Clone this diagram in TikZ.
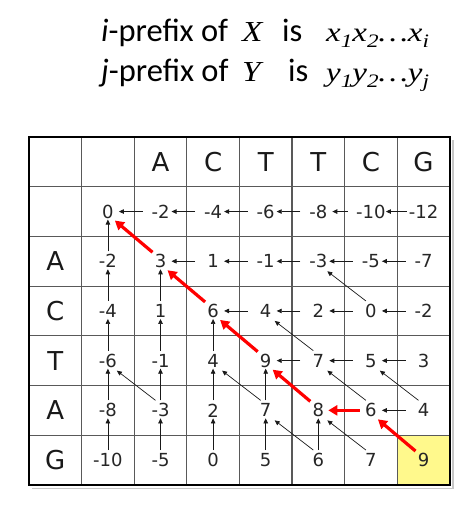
\documentclass[tikz,border=0pt]{standalone}
\usepackage{fontspec}
\usepackage{graphicx}
\setmainfont{DejaVu Sans}
\newfontfamily\ttlfont{Carlito}
\newfontfamily\serifit{Liberation Serif}
\usetikzlibrary{arrows.meta}
\newcommand\sbs[1]{\raisebox{-6pt}{\fontsize{19}{19}\selectfont #1}}
\newcommand\V[3]{\node[num] (n-#1-#2) at ({29+52.6*(#2+0.5)},{137+49.7*(#1+1.5)}) {#3};}
\newcommand\HA[3]{\draw[blk] ([xshift=-18pt]n-#1-#2.center) -- ([xshift=11pt]n-#1-#3.center);}
\newcommand\VA[3]{\draw[blk] ([yshift=10pt]n-#2-#1.center) -- ([yshift=-8pt]n-#3-#1.center);}
\newcommand\DA[4]{\draw[blk] ([shift={(-5pt,10pt)}]n-#1-#2.center) -- ([shift={(9pt,-10pt)}]n-#3-#4.center);}
\newcommand\RD[4]{\draw[redarr] ([shift={(-8pt,9pt)}]n-#1-#2.center) -- ([shift={(7pt,-9pt)}]n-#3-#4.center);}
\begin{document}
\begin{tikzpicture}[x=1pt,y=-1pt,
  num/.style={font=\fontsize{18}{18}\selectfont, inner sep=0pt, text=black!85},
  hdr/.style={font=\fontsize{26}{26}\selectfont, inner sep=0pt, text=black!90},
  blk/.style={draw=black!90, line width=0.7pt, -{Triangle[length=5pt,width=4.5pt]}},
  redarr/.style={draw=red, line width=3.2pt, -{Triangle[length=9pt,width=10pt]}},
  ttl/.style={font=\ttlfont\fontsize{32.5}{32.5}\selectfont, anchor=base west, inner sep=0pt},
  mth/.style={font=\serifit\itshape\fontsize{27}{27}\selectfont, anchor=base west, inner sep=0pt},
  big/.style={font=\serifit\itshape\fontsize{29}{29}\selectfont, anchor=base west, inner sep=0pt},
  gridline/.style={draw=black!65, line width=1.1pt},
  border/.style={draw=black, line width=2.4pt}]
\useasboundingbox (0,0) rectangle (470,505);
% title
\node[ttl] (t1) at (101,42) {\textit{i}-prefix of};
\node[big] (x1) at (242,42) {\scalebox{1.15}[1]{X}};
\node[ttl] (i1) at (282,42) {is};
\node[mth] (m1) at (326,42) {\scalebox{1.22}[1]{x\sbs{1}x\sbs{2}…x\sbs{i}}};
\node[ttl] (t2) at (101,82) {\textit{j}-prefix of};
\node[big] (y2) at (242,82) {\scalebox{1.15}[1]{Y}};
\node[ttl] (i2) at (288,82) {is};
\node[mth] (m2) at (326,82) {\scalebox{1.22}[1]{y\sbs{1}y\sbs{2}…y\sbs{j}}};
% grid
\fill[yellow!45] (397.2,435.2) rectangle (449.8,484.9);
\draw[black!22, line width=1.4pt] (32,488.2) -- (452.8,488.2) -- (452.8,140);
\foreach \gx in {81.6,134.2,186.8,239.4,292,344.6,397.2}
  \draw[gridline] (\gx,137) -- (\gx,484.9);
\foreach \gy in {186.7,236.4,286.1,335.8,385.5,435.2}
  \draw[gridline] (29,\gy) -- (449.8,\gy);
\draw[border] (29,137) rectangle (449.8,484.9);
% headers
\node[hdr] (h-2) at ({29+52.6*2.5},161.85) {A};
\node[hdr] (h-3) at ({29+52.6*3.5},161.85) {C};
\node[hdr] (h-4) at ({29+52.6*4.5},161.85) {T};
\node[hdr] (h-5) at ({29+52.6*5.5},161.85) {T};
\node[hdr] (h-6) at ({29+52.6*6.5},161.85) {C};
\node[hdr] (h-7) at ({29+52.6*7.5},161.85) {G};
\node[hdr] (l-1) at (55.3,{137+49.7*2.5}) {A};
\node[hdr] (l-2) at (55.3,{137+49.7*3.5}) {C};
\node[hdr] (l-3) at (55.3,{137+49.7*4.5}) {T};
\node[hdr] (l-4) at (55.3,{137+49.7*5.5}) {A};
\node[hdr] (l-5) at (55.3,{137+49.7*6.5}) {G};
% values
\V{0}{1}{0}\V{0}{2}{-2}\V{0}{3}{-4}\V{0}{4}{-6}\V{0}{5}{-8}\V{0}{6}{-10}\V{0}{7}{-12}
\V{1}{1}{-2}\V{1}{2}{3}\V{1}{3}{1}\V{1}{4}{-1}\V{1}{5}{-3}\V{1}{6}{-5}\V{1}{7}{-7}
\V{2}{1}{-4}\V{2}{2}{1}\V{2}{3}{6}\V{2}{4}{4}\V{2}{5}{2}\V{2}{6}{0}\V{2}{7}{-2}
\V{3}{1}{-6}\V{3}{2}{-1}\V{3}{3}{4}\V{3}{4}{9}\V{3}{5}{7}\V{3}{6}{5}\V{3}{7}{3}
\V{4}{1}{-8}\V{4}{2}{-3}\V{4}{3}{2}\V{4}{4}{7}\V{4}{5}{8}\V{4}{6}{6}\V{4}{7}{4}
\V{5}{1}{-10}\V{5}{2}{-5}\V{5}{3}{0}\V{5}{4}{5}\V{5}{5}{6}\V{5}{6}{7}\V{5}{7}{9}
% horizontal arrows
\HA{0}{2}{1}\HA{0}{3}{2}\HA{0}{4}{3}\HA{0}{5}{4}
\draw[blk] ([xshift=-23pt]n-0-6.center) -- ([xshift=14pt]n-0-5.center);
\draw[blk] ([xshift=-17pt]n-0-7.center) -- ([xshift=15pt]n-0-6.center);
\HA{1}{3}{2}\HA{1}{4}{3}\HA{1}{5}{4}\HA{1}{6}{5}\HA{1}{7}{6}
\HA{2}{4}{3}\HA{2}{5}{4}\HA{2}{6}{5}\HA{2}{7}{6}
\HA{3}{5}{4}\HA{3}{6}{5}\HA{3}{7}{6}
\HA{4}{7}{6}
% vertical arrows
\VA{1}{1}{0}\VA{1}{2}{1}\VA{1}{3}{2}\VA{1}{4}{3}\VA{1}{5}{4}
\VA{2}{2}{1}\VA{2}{3}{2}\VA{2}{4}{3}\VA{2}{5}{4}
\VA{3}{3}{2}\VA{3}{4}{3}\VA{3}{5}{4}
\VA{4}{4}{3}\VA{4}{5}{4}
\VA{5}{5}{4}
% diagonal arrows
\DA{2}{6}{1}{5}\DA{3}{5}{2}{4}\DA{4}{2}{3}{1}\DA{4}{4}{3}{3}
\DA{4}{6}{3}{5}\DA{4}{7}{3}{6}\DA{5}{5}{4}{4}\DA{5}{6}{4}{5}
% traceback
\RD{5}{7}{4}{6}
\draw[redarr] ([xshift=-11pt]n-4-6.center) -- ([xshift=10pt]n-4-5.center);
\RD{4}{5}{3}{4}\RD{3}{4}{2}{3}\RD{2}{3}{1}{2}\RD{1}{2}{0}{1}
\end{tikzpicture}
\end{document}
